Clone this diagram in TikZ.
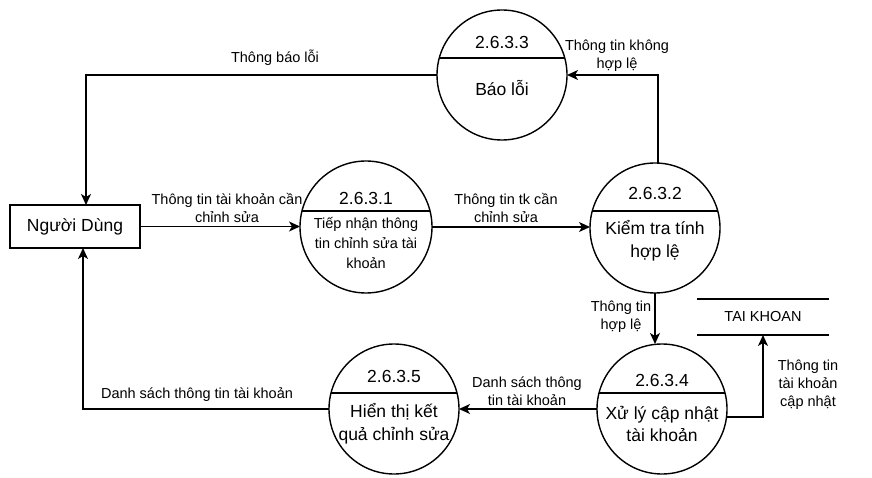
\documentclass[tikz,border=0pt]{standalone}
\usepackage{fontspec}
\setmainfont{Liberation Sans}
\usetikzlibrary{arrows.meta,calc}
\begin{document}
\begin{tikzpicture}[x=1pt,y=-1pt,
  proc/.style={circle,draw,line width=1.4pt,inner sep=0pt,outer sep=0pt,minimum size=130pt},
  ent/.style={draw,line width=1.4pt,inner sep=0pt,outer sep=0pt,minimum width=130pt,minimum height=43pt,font=\fontsize{17.5}{21}\selectfont},
  ptitle/.style={font=\fontsize{17.5}{21}\selectfont,inner sep=0pt},
  pbody/.style={font=\fontsize{17.5}{22.5}\selectfont,align=center,inner sep=0pt},
  psmall/.style={font=\fontsize{14.5}{20}\selectfont,align=center,inner sep=0pt},
  lbl/.style={font=\fontsize{14.5}{18}\selectfont,align=center,inner sep=0pt},
  flow/.style={line width=1.4pt,-{Stealth[length=11pt,width=10pt,inset=3pt]}},
  divline/.style={line width=1.4pt}
]
\useasboundingbox (0,0) rectangle (872,478);

% external entity
\node[ent] (user) at (75,226.5) {Người Dùng};

% processes
\node[proc] (p3) at (502,75) {};
\node[proc,minimum size=132pt] (p1) at (366,227) {};
\node[proc] (p2) at (655,228) {};
\node[proc] (p4) at (662,409) {};
\node[proc] (p5) at (394,409) {};

% dividers
\draw[divline] (502-62.7,58) -- (502+62.7,58);
\draw[divline] (366-64,211) -- (366+64,211);
\draw[divline] (655-62.7,211) -- (655+62.7,211);
\draw[divline] (662-63,393) -- (662+63,393);
\draw[divline] (394-63,393) -- (394+63,393);

% process texts
\node[ptitle] (t3) at (502,42) {2.6.3.3};
\node[pbody] (b3) at (502,88) {Báo lỗi};
\node[ptitle] (t1) at (366,198) {2.6.3.1};
\node[psmall] (b1) at (366,243) {Tiếp nhận thông\\tin chỉnh sửa tài\\khoản};
\node[ptitle] (t2) at (655,193) {2.6.3.2};
\node[pbody] (b2) at (655,241) {Kiểm tra tính\\hợp lệ};
\node[ptitle] (t4) at (662,380) {2.6.3.4};
\node[pbody] (b4) at (662,424) {Xử lý cập nhật\\tài khoản};
\node[ptitle] (t5) at (394,376) {2.6.3.5};
\node[pbody] (b5) at (394,424) {Hiển thị kết\\quả chỉnh sửa};

% data store
\node[inner sep=0pt,outer sep=0pt,minimum width=132pt,minimum height=36pt,font=\fontsize{14.5}{18}\selectfont] (ds) at (763,317) {TAI KHOAN};
\draw[divline] (ds.north west) -- (ds.north east);
\draw[divline] (ds.south west) -- (ds.south east);

% flows
\draw[flow] (user.east) -- (user.east -| p1.west);
\draw[flow] (p1.east) -- (p1.east -| p2.west);
\draw[flow] ([xshift=3pt]p2.north) |- (p3.east);
\draw[flow] (p3.west) -| ([xshift=11pt]user.north);
\draw[flow] (p2.south) -- (p2.south |- p4.north);
\draw[flow] (p4.west) -- (p5.east);
\draw[flow] (p5.west) -| ([xshift=8pt]user.south);
\draw[flow] (p4.-7) -| (ds.south);

% labels
\node[lbl] (l1) at (275,58) {Thông báo lỗi};
\node[lbl] (l2) at (227,208) {Thông tin tài khoản cần\\chỉnh sửa};
\node[lbl] (l3) at (506,208) {Thông tin tk cần\\chỉnh sửa};
\node[lbl] (l4) at (617,56) {Thông tin không\\hợp lệ};
\node[lbl] (l5) at (621,317) {Thông tin\\hợp lệ};
\node[lbl] (l6) at (527,391) {Danh sách thông\\tin tài khoản};
\node[lbl] (l7) at (808,385) {Thông tin\\tài khoản\\cập nhật};
\node[lbl] (l8) at (197,395) {Danh sách thông tin tài khoản};
\end{tikzpicture}
\end{document}
